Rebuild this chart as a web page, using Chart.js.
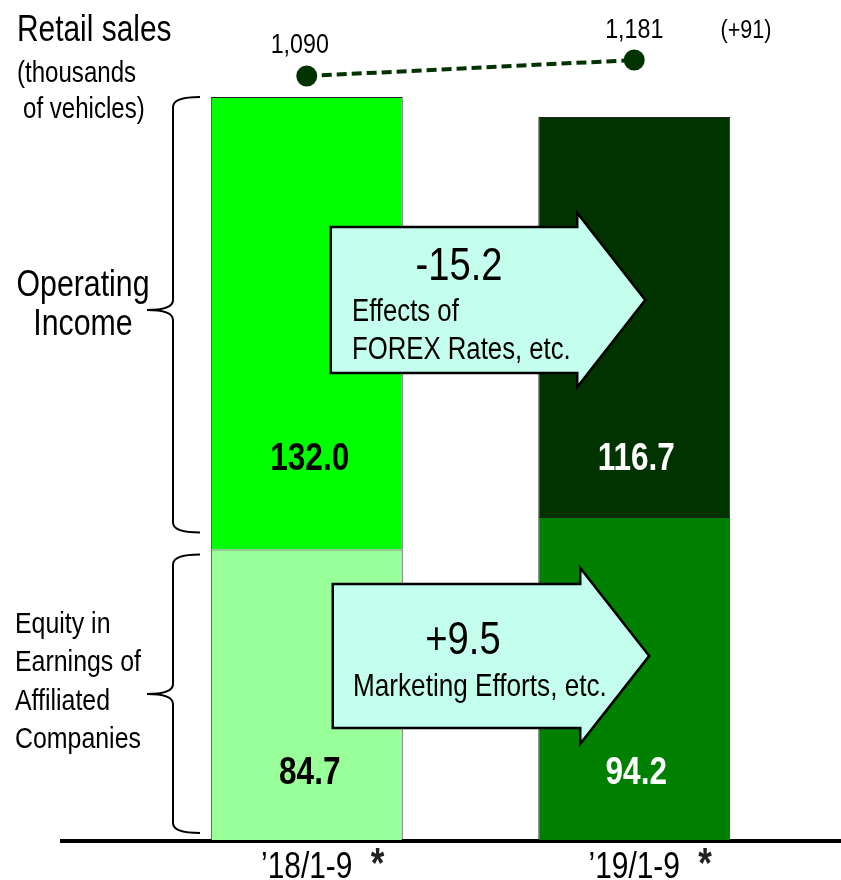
<!DOCTYPE html>
<html>
<head>
<meta charset="utf-8">
<script src="https://cdn.jsdelivr.net/npm/chart.js@4/dist/chart.umd.min.js"></script>
<style>
  html, body { margin: 0; padding: 0; background: #fff; }
  canvas { display: block; }
</style>
</head>
<body>
<canvas id="chart" width="841" height="880"></canvas>
<script>
// 数据
const PERIODS = ['\u201918/1-9', '\u201919/1-9'];
const EQUITY = [84.7, 94.2];
const OPERATING = [132.0, 116.7];
const RETAIL = [1090, 1181];
const RETAIL_LABELS = ['1,090', '1,181'];
const RETAIL_CHANGE = '(+91)';
const CHANGE_LABELS = ['-15.2', '+9.5'];
const CHANGE_NOTES = [['Effects of', 'FOREX Rates, etc.'], ['Marketing Efforts, etc.']];

const FONT = "'Liberation Sans', Arial, sans-serif";
const SQUEEZE = 0.83; // 模拟窄体字
const ARROW_FILL = '#c4ffee';

// 横向压缩的文字
function txt(ctx, s, x, y, size, align, color, bold) {
  ctx.save();
  ctx.font = (bold ? 'bold ' : '') + size + 'px ' + FONT;
  ctx.fillStyle = color || '#000';
  ctx.textAlign = align || 'left';
  ctx.textBaseline = 'alphabetic';
  ctx.translate(x, y);
  ctx.scale(SQUEEZE, 1);
  ctx.fillText(s, 0, 0);
  ctx.restore();
}

function drawBrace(ctx, x, tipX, top, mid, bottom) {
  const r = 10;
  ctx.beginPath();
  ctx.moveTo(x + 27, top);
  ctx.quadraticCurveTo(x, top, x, top + r);
  ctx.lineTo(x, mid - r);
  ctx.quadraticCurveTo(x, mid, tipX, mid);
  ctx.quadraticCurveTo(x, mid, x, mid + r);
  ctx.lineTo(x, bottom - r);
  ctx.quadraticCurveTo(x, bottom, x + 27, bottom);
  ctx.stroke();
}

function drawArrow(ctx, x0, headX, tipX, cy, halfBody, halfHead) {
  ctx.beginPath();
  ctx.moveTo(x0, cy - halfBody);
  ctx.lineTo(headX, cy - halfBody);
  ctx.lineTo(headX, cy - halfHead);
  ctx.lineTo(tipX, cy);
  ctx.lineTo(headX, cy + halfHead);
  ctx.lineTo(headX, cy + halfBody);
  ctx.lineTo(x0, cy + halfBody);
  ctx.closePath();
  ctx.fillStyle = ARROW_FILL;
  ctx.fill();
  ctx.lineWidth = 2.5;
  ctx.strokeStyle = '#000';
  ctx.lineJoin = 'miter';
  ctx.stroke();
}

const annotations = {
  id: 'annotations',
  beforeDatasetsDraw(chart) {
    const { ctx, scales } = chart;
    const y0 = scales.y.getPixelForValue(0);
    ctx.save();
    ctx.fillStyle = '#000';
    ctx.fillRect(60, y0 - 1, chart.width - 60, 4);
    ctx.restore();
  },
  afterDatasetsDraw(chart) {
    const { ctx, scales } = chart;
    const x = scales.x, y = scales.y;
    const lower = chart.getDatasetMeta(0).data;
    const upper = chart.getDatasetMeta(1).data;
    const pts = chart.getDatasetMeta(2).data;

    // 柱内数值
    const textCol = ['#000', '#fff'];
    const shift = [3, 2];
    for (let i = 0; i < PERIODS.length; i++) {
      txt(ctx, OPERATING[i].toFixed(1), upper[i].x + shift[i], y.getPixelForValue(108), 38, 'center', textCol[i], true);
      txt(ctx, EQUITY[i].toFixed(1), lower[i].x + shift[i], y.getPixelForValue(16.3), 38, 'center', textCol[i], true);
    }

    // 零售销量
    txt(ctx, RETAIL_LABELS[0], pts[0].x - 7, pts[0].y - 23, 28, 'center');
    txt(ctx, RETAIL_LABELS[1], pts[1].x, pts[1].y - 22, 28, 'center');
    txt(ctx, RETAIL_CHANGE, 746, pts[1].y - 22, 26, 'center');

    // 左侧标题
    txt(ctx, 'Retail sales', 17, 41, 36);
    txt(ctx, '(thousands', 17, 82, 29);
    txt(ctx, 'of vehicles)', 23, 118, 29);
    txt(ctx, 'Operating', 83, 296, 36.5, 'center');
    txt(ctx, 'Income', 83, 335, 36.5, 'center');
    ['Equity in', 'Earnings of', 'Affiliated', 'Companies'].forEach((t, k) => {
      txt(ctx, t, 15, 633 + k * 38.3, 30);
    });

    // 括号
    ctx.save();
    ctx.strokeStyle = '#000';
    ctx.lineWidth = 2;
    const topL = upper[0].y, sepL = lower[0].y;
    drawBrace(ctx, 173, 147, topL, 310, sepL - 17);
    drawBrace(ctx, 173, 147, sepL + 5, 694, y.getPixelForValue(0) - 7);

    // 变动箭头
    const cx0 = lower[0].x, cx1 = lower[1].x;
    const levels = [y.getPixelForValue(157.5), y.getPixelForValue(53.7)];
    drawArrow(ctx, cx0 + 24, cx1 - 57, cx1 + 11, levels[0], 73, 87);
    drawArrow(ctx, cx0 + 26, cx1 - 54, cx1 + 15, levels[1], 72, 88);
    ctx.restore();

    txt(ctx, CHANGE_LABELS[0], 459, levels[0] - 20, 46, 'center');
    txt(ctx, CHANGE_NOTES[0][0], 352, levels[0] + 21, 31);
    txt(ctx, CHANGE_NOTES[0][1], 352, levels[0] + 59, 31);
    txt(ctx, CHANGE_LABELS[1], 463, levels[1] - 2, 46, 'center');
    txt(ctx, CHANGE_NOTES[1][0], 353, levels[1] + 40, 31.5);

    // 期间标签
    for (let i = 0; i < PERIODS.length; i++) {
      const px = x.getPixelForValue(i);
      txt(ctx, PERIODS[i], px, 878, 36, 'center');
      txt(ctx, '*', px + 64, 877, 42, 'left', '#222', true);
    }
  }
};

new Chart(document.getElementById('chart'), {
  data: {
    labels: PERIODS,
    datasets: [
      {
        type: 'bar',
        label: 'Equity in Earnings of Affiliated Companies',
        data: EQUITY,
        backgroundColor: ['#99ff99', '#008000'],
        borderColor: '#222',
        borderWidth: 1,
        barPercentage: 0.586,
        categoryPercentage: 1,
        yAxisID: 'y',
      },
      {
        type: 'bar',
        label: 'Operating Income',
        data: OPERATING,
        backgroundColor: ['#00ff00', '#003300'],
        borderColor: '#222',
        borderWidth: 1,
        barPercentage: 0.586,
        categoryPercentage: 1,
        yAxisID: 'y',
      },
      {
        type: 'line',
        label: 'Retail sales',
        data: RETAIL,
        borderColor: '#003300',
        backgroundColor: '#003300',
        borderWidth: 4,
        borderDash: [10, 5],
        pointRadius: 8.5,
        pointHoverRadius: 8.5,
        yAxisID: 'y2',
      },
    ],
  },
  options: {
    responsive: false,
    devicePixelRatio: 1,
    animation: false,
    layout: { padding: { left: 143, right: 43, top: 24, bottom: 40 } },
    plugins: { legend: { display: false }, tooltip: { enabled: false } },
    scales: {
      x: { display: false, stacked: true },
      y: { display: false, stacked: true, min: 0, max: 238 },
      y2: { display: false, min: -3255, max: 1386 },
    },
  },
  plugins: [annotations],
});
</script>
</body>
</html>
